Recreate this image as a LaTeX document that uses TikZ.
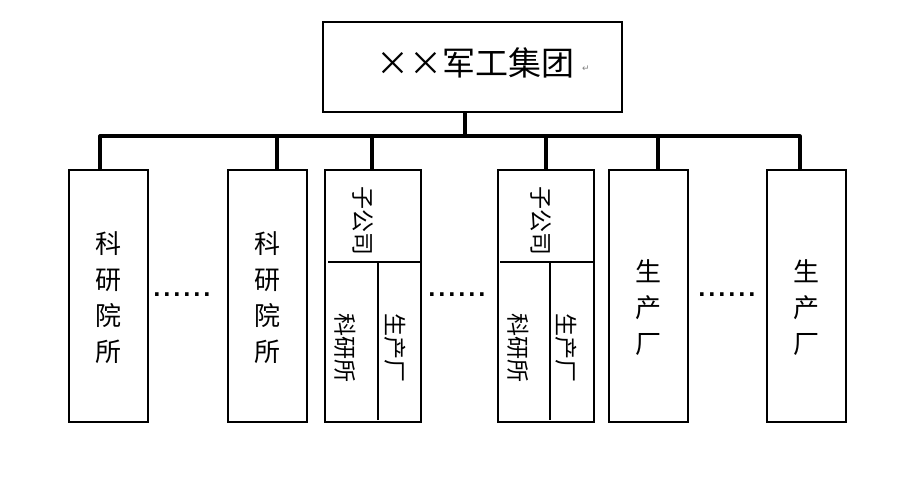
\documentclass[tikz,border=0pt]{standalone}
\usepackage{fontspec}
\setmainfont{Noto Sans CJK SC}
\newfontfamily\dejavu{DejaVu Sans}
\newfontfamily\dotfont[LetterSpace=12]{DejaVu Sans Bold}
\begin{document}
\begin{tikzpicture}[x=1pt,y=-1pt,
  box/.style={draw,line width=1.7pt,inner sep=0pt},
  bus/.style={line width=3.2pt},
  thin/.style={line width=1.5pt},
  big/.style={font=\fontsize{26}{36}\selectfont,align=center},
  rot/.style={font=\fontsize{23}{23}\selectfont,rotate=-90,inner sep=0pt},
  dots/.style={font=\dotfont\fontsize{20}{20}\selectfont,anchor=base,inner sep=0pt}]
\useasboundingbox (0,0) rectangle (904,484);
% top
\node[box,minimum width=299pt,minimum height=90pt] (top) at (472.5,67) {};
\node[font=\fontsize{33}{33}\selectfont] (toptext) at (475,63) {××军工集团};
\node[font=\dejavu\fontsize{9}{9}\selectfont,text=gray] (mark) at (586,69) {↵};
% boxes
\node[box,minimum width=79pt,minimum height=252pt] (b1) at (108.5,296) {};
\node[box,minimum width=79pt,minimum height=252pt] (b2) at (267.5,296) {};
\node[box,minimum width=96pt,minimum height=252pt] (b3) at (373,296) {};
\node[box,minimum width=96pt,minimum height=252pt] (b4) at (546,296) {};
\node[box,minimum width=79pt,minimum height=252pt] (b5) at (648.5,296) {};
\node[box,minimum width=79pt,minimum height=252pt] (b6) at (806.5,296) {};
% texts
\node[big] (t1) at (108,298) {科\\研\\院\\所};
\node[big] (t2) at (267,298) {科\\研\\院\\所};
\node[big] (t5) at (648,308) {生\\产\\厂};
\node[big] (t6) at (806,308) {生\\产\\厂};
\node[rot] (s3) at (363,221) {子公司};
\node[rot] (s3a) at (345,348) {科研所};
\node[rot] (s3b) at (395,348) {生产厂};
\node[rot] (s4) at (541,221) {子公司};
\node[rot] (s4a) at (518,348) {科研所};
\node[rot] (s4b) at (566,348) {生产厂};
% dividers
\coordinate (d3l) at (328,262); \coordinate (d3r) at (421,262);
\coordinate (v3t) at (378,262); \coordinate (v3b) at (378,420);
\coordinate (d4l) at (500,262); \coordinate (d4r) at (594,262);
\coordinate (v4t) at (550,262); \coordinate (v4b) at (550,420);
\draw[thin] (d3l) -- (d3r) (v3t) -- (v3b) (d4l) -- (d4r) (v4t) -- (v4b);
% dots
\node[dots] (p1) at (182,296) {......};
\node[dots] (p2) at (457,296) {......};
\node[dots] (p3) at (727,296) {......};
% bus
\coordinate (busL) at (100,136);
\coordinate (busR) at (800,136);
\coordinate (busM) at (465,136);
\draw[bus] (top.south -| busM) -- (busM);
\draw[bus,line join=round] (b1.north -| busL) -- (busL) -- (busR) -- (b6.north -| busR);
\foreach \b/\x in {b2/277,b3/372,b4/546,b5/658}{
  \draw[bus] (\x,136) -- (\b.north -| {(\x,0)});
}
\end{tikzpicture}
\end{document}
